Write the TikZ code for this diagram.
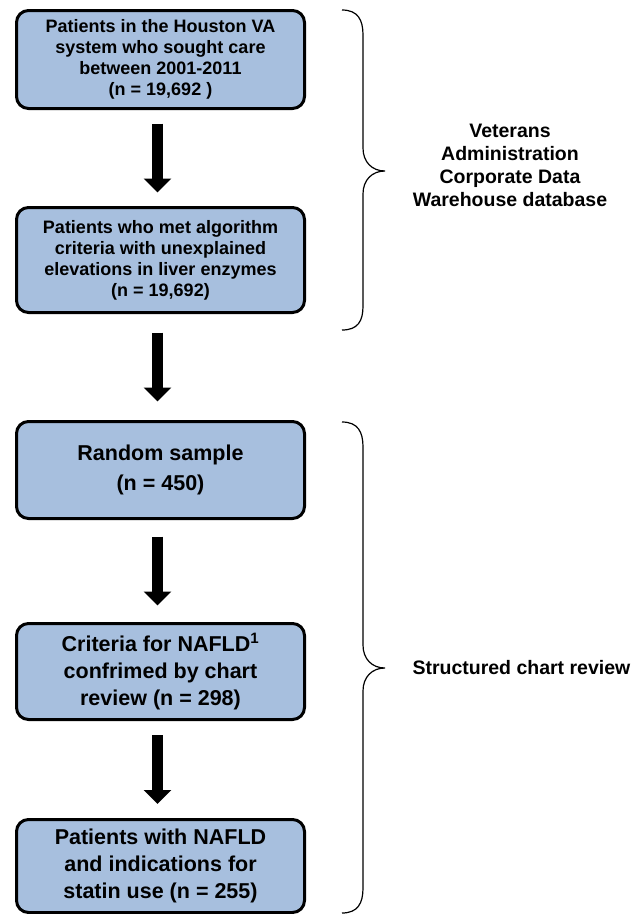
\documentclass[tikz,border=0pt]{standalone}
\usepackage{fontspec}
\setmainfont{Liberation Sans}
\usetikzlibrary{arrows.meta,calc}
\definecolor{boxblue}{RGB}{167,191,222}

\begin{document}
\begin{tikzpicture}[x = 1pt, y = -1pt,
  stage/.style = {draw = black, line width = 3pt, fill = boxblue, rounded corners = 12pt,
    minimum width = 288pt, align = center, inner sep = 0pt,
    font = \bfseries\fontsize{18}{21}\selectfont},
  bigstage/.style = {stage, font = \bfseries\fontsize{21.5}{27}\selectfont},
  flow/.style = {line width = 11pt, -{Triangle[width = 27pt, length = 14pt]}},
  bracket/.style = {line width = 1.2pt},
  side/.style = {align = center, font = \bfseries\fontsize{19.5}{23}\selectfont}]
  \useasboundingbox (0, 0) rectangle (642, 914);

  \node[stage, minimum height = 98pt] (cohort) at (160.5, 59.5)
    {Patients in the Houston VA\\system who sought care\\between 2001-2011\\(n = 19,692 )};
  \node[stage, minimum height = 105pt] (algo) at (160.5, 260)
    {Patients who met algorithm\\criteria with unexplained\\elevations in liver enzymes\\(n = 19,692)};
  \node[bigstage, minimum height = 97pt, font = \bfseries\fontsize{21.5}{30}\selectfont] (sample) at (160.5, 470)
    {Random sample\\(n = 450)};
  \node[bigstage, minimum height = 96pt] (nafld) at (160.5, 671.5)
    {Criteria for NAFLD\textsuperscript{1}\\confrimed by chart\\review (n = 298)};
  \node[bigstage, minimum height = 93pt] (statin) at (160.5, 866)
    {Patients with NAFLD\\and indications for\\statin use (n = 255)};

  \draw[flow] ($(cohort.south)!0.5!(algo.north) + (-3, -34.5)$) -- ($(cohort.south)!0.5!(algo.north) + (-3, 34.5)$);
  \draw[flow] ($(algo.south)!0.5!(sample.north) + (-3, -34.5)$) -- ($(algo.south)!0.5!(sample.north) + (-3, 34.5)$);
  \draw[flow] ($(sample.south)!0.5!(nafld.north) + (-3, -34.5)$) -- ($(sample.south)!0.5!(nafld.north) + (-3, 34.5)$);
  \draw[flow] ($(nafld.south)!0.5!(statin.north) + (-3, -34.5)$) -- ($(nafld.south)!0.5!(statin.north) + (-3, 34.5)$);

  \draw[bracket] (342, 10) .. controls (358, 10) and (363, 20) .. (363, 35) -- (363, 148)
    .. controls (363, 162) and (372, 171) .. (385, 171)
    .. controls (372, 171) and (363, 180) .. (363, 194) -- (363, 306)
    .. controls (363, 321) and (358, 330) .. (342, 330);
  \draw[bracket] (342, 422) .. controls (358, 422) and (363, 432) .. (363, 447) -- (363, 645)
    .. controls (363, 659) and (372, 668) .. (385, 668)
    .. controls (372, 668) and (363, 677) .. (363, 691) -- (363, 888)
    .. controls (363, 903) and (358, 913) .. (342, 913);

  \node[side] (warehouse) at (510, 165) {Veterans\\Administration\\Corporate Data\\Warehouse database};
  \node[side, anchor = west] (review) at (409, 668) {Structured chart review};
\end{tikzpicture}
\end{document}
